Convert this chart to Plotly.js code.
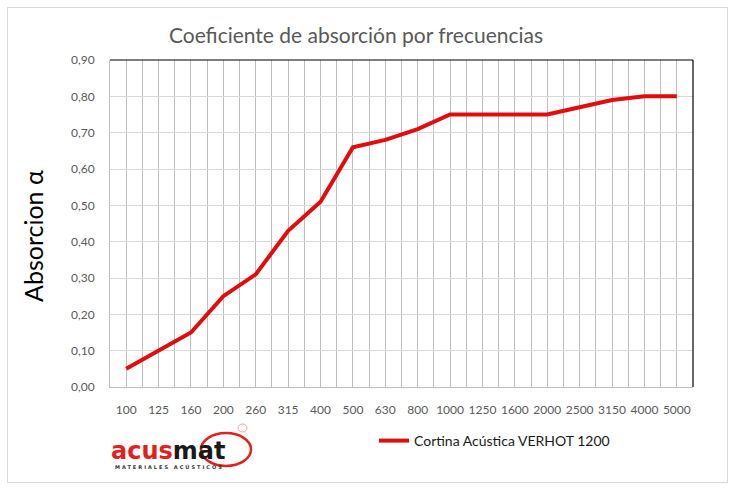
<!DOCTYPE html>
<html>
<head>
<meta charset="utf-8">
<script src="https://cdn.plot.ly/plotly-3.0.1.min.js"></script>
<style>
  body { margin: 0; background: #fff; }
  #wrap { position: relative; width: 734px; height: 492px; }
  #chart { width: 734px; height: 492px; }
  #frame { position: absolute; left: 7px; top: 7px; width: 719px; height: 474px;
           border: 1px solid #d9d9d9; pointer-events: none; }
</style>
</head>
<body>
<div id="wrap">
  <div id="chart"></div>
  <div id="frame"></div>
</div>
<script>
// bandas de frecuencia (Hz) y coeficiente de absorcion
var frecuencias = ['100','125','160','200','260','315','400','500','630','800',
                   '1000','1250','1600','2000','2500','3150','4000','5000'];
var absorcion = [0.05, 0.10, 0.15, 0.25, 0.31, 0.43, 0.51, 0.66, 0.68, 0.71,
                 0.75, 0.75, 0.75, 0.75, 0.77, 0.79, 0.80, 0.80];
var nombreSerie = 'Cortina Acústica VERHOT 1200';

var fuente = 'Lato, "Open Sans", sans-serif';
var gris = '#595959';

// posicion de cada banda en el eje (una por categoria)
var X = [];
for (var i = 0; i < frecuencias.length; i++) {
	X.push(i);
}
// rejilla vertical en el centro y en el borde de cada banda
var tickV = [], tickT = [];
for (var i = 0; i < frecuencias.length; i++) {
	tickV.push(i - 0.5); tickT.push('');
	tickV.push(i); tickT.push(frecuencias[i]);
}
tickV.push(frecuencias.length - 0.5); tickT.push('');

var data = [{
	x: X,
	y: absorcion,
	type: 'scatter',
	mode: 'lines',
	name: nombreSerie,
	line: { color: 'rgb(226,12,12)', width: 4 }
}];

// px -> coordenadas paper (area de trazado 110..693 x 60..387)
function px(v) { return (v - 110) / 583; }
function py(v) { return (387 - v) / 327; }

var layout = {
	width: 734,
	height: 492,
	margin: { l: 110, r: 41, t: 60, b: 105 },
	paper_bgcolor: '#fff',
	plot_bgcolor: '#fff',
	separators: ',.',
	font: { family: fuente, color: gris, size: 12 },
	title: {
		text: 'Coeficiente de absorción por frecuencias',
		font: { family: fuente, size: 21, color: gris },
		x: 0.485, xanchor: 'center',
		y: 0.927, yanchor: 'middle'
	},
	xaxis: {
		type: 'linear',
		range: [-0.5, frecuencias.length - 0.5],
		tickmode: 'array',
		tickvals: tickV,
		ticktext: tickT,
		showgrid: true,
		gridcolor: '#bfbfbf',
		gridwidth: 1,
		zeroline: false,
		showline: true,
		linecolor: '#bfbfbf',
		ticks: '',
		ticklabelstandoff: 12,
		tickfont: { family: fuente, size: 12, color: gris },
		fixedrange: true
	},
	yaxis: {
		range: [0, 0.9],
		dtick: 0.1,
		tickformat: '.2f',
		showgrid: true,
		gridcolor: '#d9d9d9',
		zeroline: false,
		showline: true,
		linecolor: '#bfbfbf',
		ticks: '',
		ticklabelstandoff: 12,
		tickfont: { family: fuente, size: 12, color: gris },
		automargin: false,
		fixedrange: true
	},
	showlegend: true,
	legend: {
		orientation: 'h',
		x: px(374), xanchor: 'left',
		y: py(441), yanchor: 'middle',
		font: { family: fuente, size: 14, color: '#1a1a1a' },
		bgcolor: 'rgba(0,0,0,0)'
	},
	shapes: [
		// borde superior y derecho negros del area de trazado
		{ type: 'line', xref: 'paper', yref: 'paper', x0: 0, x1: 1, y0: 1, y1: 1,
		  line: { color: '#000', width: 1.2 } },
		{ type: 'line', xref: 'paper', yref: 'paper', x0: 1, x1: 1, y0: 0, y1: 1,
		  line: { color: '#000', width: 1.2 } },
		// aros del logotipo
		{ type: 'circle', xref: 'paper', yref: 'paper', layer: 'below',
		  x0: px(201), x1: px(251), y0: py(466), y1: py(433),
		  line: { color: '#e3201b', width: 2.5 } },
		{ type: 'circle', xref: 'paper', yref: 'paper', layer: 'below',
		  x0: px(238), x1: px(247), y0: py(432), y1: py(424),
		  line: { color: '#f0a0a0', width: 1 } }
	],
	annotations: [
		// titulo del eje Y (un poco por debajo del centro, como en el original)
		{ xref: 'paper', yref: 'paper', x: px(33), y: py(236),
		  xanchor: 'center', yanchor: 'middle', showarrow: false, textangle: -90,
		  text: 'Absorcion α',
		  font: { family: fuente, size: 25, color: '#000' } },
		{ xref: 'paper', yref: 'paper', x: px(168), y: py(451),
		  xanchor: 'center', yanchor: 'middle', showarrow: false,
		  text: '<b><span style="color:#e3201b">acus</span><span style="color:#1a1a1a">mat</span></b>',
		  font: { family: '"DejaVu Sans", sans-serif', size: 24 } },
		{ xref: 'paper', yref: 'paper', x: px(113), y: py(467),
		  xanchor: 'left', yanchor: 'middle', showarrow: false,
		  text: '<b><span style="letter-spacing:2px">MATERIALES ACÚSTICOS</span></b>',
		  font: { family: '"DejaVu Sans", sans-serif', size: 5, color: '#333' } }
	]
};

Plotly.newPlot(document.getElementById('chart'), data, layout, { displayModeBar: false, staticPlot: true });
</script>
</body>
</html>
